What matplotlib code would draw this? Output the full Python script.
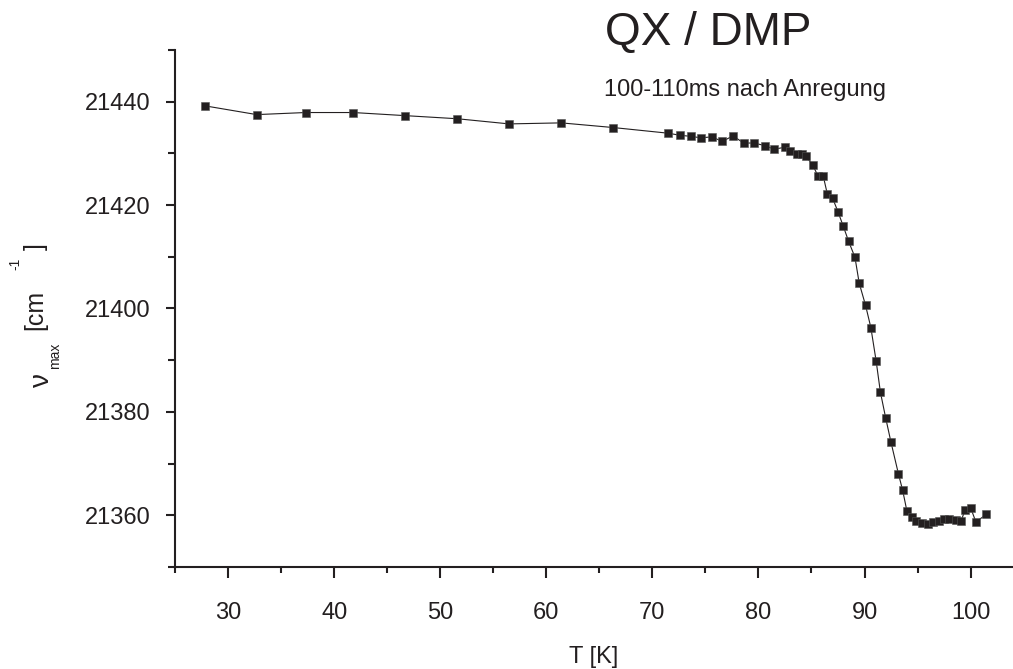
import matplotlib
matplotlib.use("Agg")
import matplotlib.pyplot as plt
from matplotlib.ticker import MultipleLocator

plt.rcParams["font.family"] = ["Liberation Sans", "DejaVu Sans"]

# band maximum vs temperature, 100-110 ms after excitation
temp_k = [27.8, 32.7, 37.3, 41.8, 46.7, 51.6, 56.5, 61.4, 66.3,
          71.5, 72.6, 73.6, 74.6, 75.6, 76.6, 77.6, 78.6, 79.6, 80.6,
          81.5, 82.5, 83.0, 83.6, 84.1, 84.5, 85.1, 85.6, 86.1, 86.5,
          87.0, 87.5, 88.0, 88.5, 89.1, 89.5, 90.1, 90.6, 91.1, 91.5,
          92.0, 92.5, 93.2, 93.6, 94.0, 94.5, 94.9, 95.4, 96.0, 96.5,
          97.0, 97.5, 98.0, 98.6, 99.1, 99.5, 100.0, 100.5, 101.5]
nu_max = [21439.2, 21437.5, 21437.9, 21437.9, 21437.3, 21436.7, 21435.7, 21435.9, 21435.0,
          21433.9, 21433.5, 21433.3, 21433.0, 21433.2, 21432.3, 21433.4, 21432.0, 21432.0, 21431.5,
          21430.8, 21431.2, 21430.5, 21429.9, 21429.9, 21429.4, 21427.8, 21425.7, 21425.7, 21422.1,
          21421.3, 21418.7, 21415.9, 21413.0, 21409.9, 21404.9, 21400.6, 21396.3, 21389.8, 21383.8,
          21378.8, 21374.1, 21368.0, 21364.8, 21360.8, 21359.6, 21358.9, 21358.5, 21358.4, 21358.7,
          21358.9, 21359.2, 21359.2, 21359.0, 21358.9, 21361.1, 21361.5, 21358.7, 21360.2]

fig = plt.figure(figsize=(10.13, 6.69), dpi=100)
ax = fig.add_axes([0.1728, 0.1525, 0.8272, 0.7728])

ax.plot(temp_k, nu_max, color="#231f20", linewidth=0.8, marker="s",
        markersize=6, markerfacecolor="#231f20", markeredgecolor="#555555",
        markeredgewidth=0.4)

ax.set_xlim(25, 104)
ax.set_ylim(21350, 21450)
ax.xaxis.set_major_locator(MultipleLocator(10))
ax.xaxis.set_minor_locator(MultipleLocator(5))
ax.yaxis.set_major_locator(MultipleLocator(20))
ax.yaxis.set_minor_locator(MultipleLocator(10))
ax.set_yticks([21360, 21380, 21400, 21420, 21440])
ax.set_xticks([30, 40, 50, 60, 70, 80, 90, 100])

for side in ("top", "right"):
    ax.spines[side].set_visible(False)
for side in ("left", "bottom"):
    ax.spines[side].set_linewidth(1.5)
    ax.spines[side].set_color("#231f20")

ax.tick_params(axis="x", which="major", direction="out", length=8, width=1.5,
               pad=17, labelsize=17, colors="#231f20")
ax.tick_params(axis="x", which="minor", direction="out", length=4.5, width=1.5,
               colors="#231f20")
ax.tick_params(axis="y", which="major", direction="out", length=6.5, width=1.5,
               pad=11, labelsize=17, colors="#231f20")
ax.tick_params(axis="y", which="minor", direction="out", length=5, width=1.5,
               colors="#231f20")

ax.set_xlabel("T [K]", fontsize=17, color="#231f20", labelpad=16)

# y label pieces, spaced out the way the plotting program wrote it
fig.text(0.041, 0.432, "ν", rotation=90, fontsize=20, color="#231f20",
         ha="center", va="center")
fig.text(0.054, 0.468, "max", rotation=90, fontsize=10, color="#231f20",
         ha="center", va="center")
fig.text(0.035, 0.537, "[cm", rotation=90, fontsize=18, color="#231f20",
         ha="center", va="center")
fig.text(0.015, 0.605, "-1", rotation=90, fontsize=10, color="#231f20",
         ha="center", va="center")
fig.text(0.035, 0.632, "]", rotation=90, fontsize=18, color="#231f20",
         ha="center", va="center")

fig.text(0.699, 0.950, "QX / DMP", fontsize=33, color="#231f20",
         ha="center", va="center")
fig.text(0.735, 0.866, "100-110ms nach Anregung", fontsize=17, color="#231f20",
         ha="center", va="center")

fig.savefig("out.png", dpi=100)
